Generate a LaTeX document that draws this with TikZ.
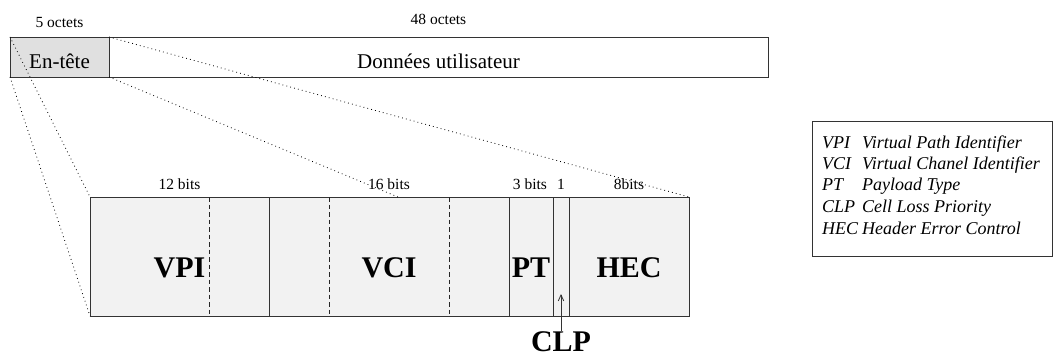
\documentclass[tikz,border=0pt]{standalone}
\usepackage{fontspec}
\setmainfont{Liberation Serif}
\usetikzlibrary{arrows.meta}

\begin{document}
\begin{tikzpicture}[x=1pt, y=-1pt,
  box/.style={draw=black!80, line width=0.8pt},
  zoomline/.style={draw=black, line width=0.8pt, dash pattern=on 0.8pt off 3.2pt},
  bytesep/.style={draw=black!85, line width=0.7pt, dash pattern=on 4.5pt off 3pt},
  sizelabel/.style={font=\fontsize{15.5}{18}\selectfont, anchor=base, inner sep=0pt},
  fieldlabel/.style={font=\fontsize{30}{34}\selectfont\bfseries, anchor=base, inner sep=0pt}]

\useasboundingbox (0,0) rectangle (1053,361);

\coordinate (hdrNW) at (10,37);
\coordinate (hdrSW) at (10,77);
\coordinate (hdrNE) at (109,37);
\coordinate (hdrSE) at (109,77);
\coordinate (dataSE) at (768,77);
\coordinate (cellNW) at (90,197);
\coordinate (cellSW) at (90,316);
\coordinate (cellNE) at (689,197);
\coordinate (cellSE) at (689,316);
\coordinate (vciTop) at (398,197);
\coordinate (clpTip) at (561,294);
\coordinate (legNW) at (812,121);
\coordinate (legSE) at (1052,256);

\draw[box, fill=black!12] (hdrNW) rectangle (hdrSE);
\draw[box] (hdrNE) rectangle (dataSE);
\draw[box, fill=black!5] (cellNW) rectangle (cellSE);
\foreach \x in {269,509,553,569}
  \draw[box] (\x,197) -- (\x,316);
\foreach \x in {209,329,449}
  \draw[bytesep] (\x,197) -- (\x,316);

\draw[zoomline] (hdrNW) -- (cellNW);
\draw[zoomline] (hdrSW) -- (cellSW);
\draw[zoomline] (hdrNE) -- (cellNE);
\draw[zoomline] (hdrSE) -- (vciTop);

\node[font=\fontsize{21}{24}\selectfont, anchor=base, inner sep=0pt] (hdr) at (59.5,69) {En-tête};
\node[font=\fontsize{21}{24}\selectfont, anchor=base, inner sep=0pt] (data) at (438.5,69) {Données utilisateur};
\node[sizelabel] (hdrSize) at (59.5,28) {5 octets};
\node[sizelabel] (dataSize) at (438.5,25) {48 octets};

\node[sizelabel] (vpiSize) at (179.5,189) {12 bits};
\node[sizelabel] (vciSize) at (389,189) {16 bits};
\node[sizelabel] (ptSize) at (530,189) {3 bits};
\node[sizelabel] (clpSize) at (561,189) {1};
\node[sizelabel] (hecSize) at (629,189) {8bits};

\node[fieldlabel] (vpi) at (179.5,277) {VPI};
\node[fieldlabel] (vci) at (389,277) {VCI};
\node[fieldlabel] (pt) at (531,277) {PT};
\node[fieldlabel] (hec) at (629,277) {HEC};
\node[fieldlabel] (clp) at (561,351) {CLP};
\draw[draw=black!80, line width=0.8pt, -{Straight Barb[length=6pt,width=5.5pt]}] (clp.north) -- (clpTip);

\draw[box] (legNW) rectangle (legSE);
\node[anchor=base west, inner sep=0pt, font=\fontsize{18}{21.5}\selectfont\itshape] (legend) at (822,148)
  {\begin{tabular}[t]{@{}l@{\hspace{4pt}}l@{}}
   VPI & Virtual Path Identifier\\
   VCI & Virtual Chanel Identifier\\
   PT  & Payload Type\\
   CLP & Cell Loss Priority\\
   HEC & Header Error Control
   \end{tabular}};

\end{tikzpicture}
\end{document}
